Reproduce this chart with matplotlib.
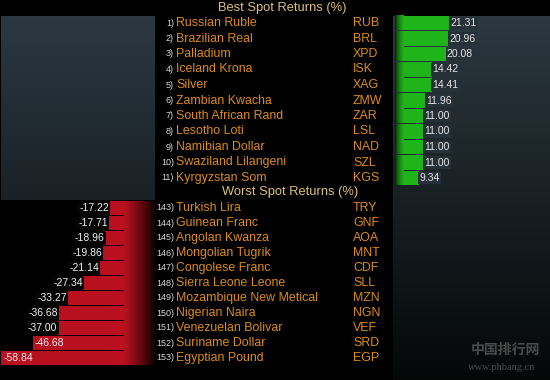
import numpy as np
import matplotlib
matplotlib.use('Agg')
import matplotlib.pyplot as plt
from matplotlib.colors import LinearSegmentedColormap, to_rgb

# data
best_rank = ['1)', '2)', '3)', '4)', '5)', '6)', '7)', '8)', '9)', '10)', '11)']
best_names = ['Russian Ruble', 'Brazilian Real', 'Palladium', 'Iceland Krona', 'Silver',
              'Zambian Kwacha', 'South African Rand', 'Lesotho Loti', 'Namibian Dollar',
              'Swaziland Lilangeni', 'Kyrgyzstan Som']
best_codes = ['RUB', 'BRL', 'XPD', 'ISK', 'XAG', 'ZMW', 'ZAR', 'LSL', 'NAD', 'SZL', 'KGS']
best_values = [21.31, 20.96, 20.08, 14.42, 14.41, 11.96, 11.00, 11.00, 11.00, 11.00, 9.34]

worst_rank = ['143)', '144)', '145)', '146)', '147)', '148)', '149)', '150)', '151)', '152)', '153)']
worst_names = ['Turkish Lira', 'Guinean Franc', 'Angolan Kwanza', 'Mongolian Tugrik',
               'Congolese Franc', 'Sierra Leone Leone', 'Mozambique New Metical',
               'Nigerian Naira', 'Venezuelan Bolivar', 'Suriname Dollar', 'Egyptian Pound']
worst_codes = ['TRY', 'GNF', 'AOA', 'MNT', 'CDF', 'SLL', 'MZN', 'NGN', 'VEF', 'SRD', 'EGP']
worst_values = [-17.22, -17.71, -18.96, -19.86, -21.14, -27.34, -33.27, -36.68, -37.00, -46.68, -58.84]

W, H = 550, 380
FONT = 'Liberation Sans'
ORANGE = '#dc8c14'
TAN = '#dcc07a'
GREEN = '#1fb41a'
RED = '#b8101e'

fig = plt.figure(figsize=(W / 100, H / 100), dpi=100)
fig.patch.set_facecolor('black')

# background layer in pixel coordinates
bg = fig.add_axes([0, 0, 1, 1])
bg.set_facecolor('black')

def vgrad(ax, x0, x1, y0, y1, c_top, c_bot, z=0):
    g = np.linspace(0, 1, 64)[:, None]
    cm = LinearSegmentedColormap.from_list('g', [c_top, c_bot])
    ax.imshow(g, extent=(x0, x1, y1, y0), cmap=cm, aspect='auto', zorder=z,
              interpolation='bilinear')

def hgrad_bar(ax, y, h, x0, x1, c_left, c_right, power=1.0):
    # bar-shaped horizontal colour ramp drawn as an image in data coords
    t = np.linspace(0, 1, 128) ** power
    cl, cr = np.array(to_rgb(c_left)), np.array(to_rgb(c_right))
    img = (cl[None, :] * (1 - t[:, None]) + cr[None, :] * t[:, None])[None, :, :]
    ax.imshow(img, extent=(x0, x1, y + h / 2, y - h / 2), aspect='auto',
              interpolation='bilinear', zorder=3)

vgrad(bg, 1, 155, 16, 200, (0.17, 0.22, 0.26), (0.10, 0.13, 0.15))
vgrad(bg, 393, 550, 16, 380, (0.17, 0.22, 0.25), (0.02, 0.03, 0.03))
bg.set_xlim(0, W)
bg.set_ylim(H, 0)
bg.axis('off')

def px_axes(x0, x1, y0, y1):
    return fig.add_axes([x0 / W, 1 - y1 / H, (x1 - x0) / W, (y1 - y0) / H])

# best returns bars
ax_b = px_axes(393, 550, 15.25, 185.75)
ax_b.patch.set_alpha(0)
yb = np.arange(len(best_values))
ax_b.barh(yb, best_values, height=0.92, color=GREEN, zorder=2)
for y in yb:
    hgrad_bar(ax_b, y, 0.92, 0, 3.4, '#020602', GREEN, power=0.5)
ax_b.set_xlim(-0.8, 61.2)
ax_b.set_ylim(10.5, -0.5)
ax_b.axis('off')
for y, v in zip(yb, best_values):
    ax_b.text(v + 0.4, y, f'{v:.2f}', color='#e6e6e6', fontsize=7.5, family=FONT,
              va='center', ha='left', zorder=4,
              bbox=dict(boxstyle='square,pad=0.12', fc=(0.15, 0.19, 0.22), ec='none'))

# worst returns bars, fading to black at the right end
ax_w = px_axes(0, 155, 200.5, 365.5)
ax_w.patch.set_alpha(0)
yw = np.arange(len(worst_values))
ax_w.barh(yw, worst_values, height=0.94, color=RED, zorder=2)
for y in yw:
    hgrad_bar(ax_w, y, 0.94, -12, 0, RED, '#050001', power=1.2)
ax_w.set_xlim(-59.2, 0)
ax_w.set_ylim(10.5, -0.5)
ax_w.axis('off')
for y, v in zip(yw, worst_values):
    if v < -45:
        ax_w.text(v + 0.8, y, f'{v:.2f}', color='#f0f0f0', fontsize=7.5, family=FONT,
                  va='center', ha='left', zorder=4)
    else:
        ax_w.text(v - 0.3, y, f'{v:.2f}', color='#f0f0f0', fontsize=7.5, family=FONT,
                  va='center', ha='right', zorder=4,
                  bbox=dict(boxstyle='square,pad=0.12', fc='#050505', ec='none'))

# titles and row labels
bg.text(282, 7.5, 'Best Spot Returns (%)', color=TAN, fontsize=9.3, family=FONT,
        ha='center', va='center')
bg.text(290, 192, 'Worst Spot Returns (%)', color=TAN, fontsize=9.3, family=FONT,
        ha='center', va='center')

for i in range(len(best_names)):
    y = 23 + 15.5 * i
    bg.text(174, y, best_rank[i], color='#d8d8d8', fontsize=6.5, family=FONT,
            ha='right', va='center')
    bg.text(176, y, best_names[i], color=ORANGE, fontsize=8.9, family=FONT,
            ha='left', va='center')
    bg.text(353, y, best_codes[i], color=ORANGE, fontsize=8.9, family=FONT,
            ha='left', va='center')

for i in range(len(worst_names)):
    y = 208 + 15 * i
    bg.text(174, y, worst_rank[i], color='#d8d8d8', fontsize=6.5, family=FONT,
            ha='right', va='center')
    bg.text(176, y, worst_names[i], color=ORANGE, fontsize=8.9, family=FONT,
            ha='left', va='center')
    bg.text(353, y, worst_codes[i], color=ORANGE, fontsize=8.9, family=FONT,
            ha='left', va='center')

# watermark
bg.text(505, 350, '中国排行网', color='#5a5a5a', fontsize=10, family=['Noto Sans CJK SC', 'DejaVu Sans'],
        ha='center', va='center', fontweight='bold', alpha=0.8)
bg.text(502, 368, 'www.phbang.cn', color='#5a5a5a', fontsize=7.5, family='Liberation Serif',
        ha='center', va='center', alpha=0.8)

fig.savefig('out.png', dpi=100, facecolor='black')
